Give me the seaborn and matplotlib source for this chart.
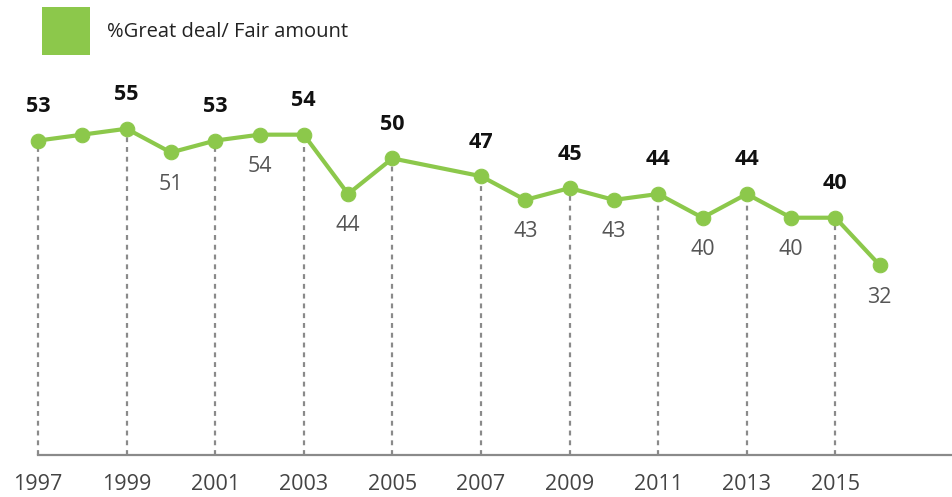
import matplotlib
matplotlib.use("Agg")
from matplotlib import pyplot as plt
from matplotlib.patches import Rectangle
import pandas
import seaborn

# Trust in mass media, % great deal / fair amount
years = [1997, 1998, 1999, 2000, 2001, 2002, 2003, 2004, 2005, 2007,
         2008, 2009, 2010, 2011, 2012, 2013, 2014, 2015, 2016]
values = [53, 54, 55, 51, 53, 54, 54, 44, 50, 47,
          43, 45, 43, 44, 40, 44, 40, 40, 32]
# where each value label goes: above (bold), below (grey) or none
label_pos = ["above", None, "above", "below", "above", "below", "above", "below", "above", "above",
             "below", "above", "below", "above", "below", "above", "below", "above", "below"]
tick_years = [1997, 1999, 2001, 2003, 2005, 2007, 2009, 2011, 2013, 2015]
series_name = "%Great deal/ Fair amount"

green = "#8cc84b"

seaborn.set_style("white")
plt.rcParams["font.family"] = ["Open Sans", "DejaVu Sans"]

df = pandas.DataFrame({"year": years, "value": values})

fig = plt.figure(figsize=(9.52, 4.97), dpi=100)
ax = fig.add_axes([0, 0.0845, 1, 0.9155])

# dashed drop lines at the odd years
drop = df[df["year"].isin(tick_years)]
ax.vlines(drop["year"], 0, drop["value"], colors="#8a8a8a",
          linestyles=(0, (2.2, 2.2)), linewidth=1.6, zorder=1)

seaborn.lineplot(data=df, x="year", y="value", ax=ax, color=green,
                 linewidth=3, marker="o", markersize=10.5,
                 markeredgecolor=green, zorder=3)

for y, v, pos in zip(years, values, label_pos):
    if pos == "above":
        ax.annotate(str(v), (y, v), xytext=(0, 24.5), textcoords="offset points",
                    ha="center", va="center", fontsize=15.5, fontweight="bold",
                    color="#111111")
    elif pos == "below":
        ax.annotate(str(v), (y, v), xytext=(0, -23), textcoords="offset points",
                    ha="center", va="center", fontsize=15.5, color="#555555")

ax.set_xlim(1997 - 38 / 44.3, 1997 + (952 - 38) / 44.3)
ax.set_ylim(0, 76.7)
ax.set_xticks(tick_years)
ax.set_xticklabels([str(t) for t in tick_years], fontsize=15.5, color="#444444")
ax.tick_params(axis="x", length=0, pad=14)
ax.set_yticks([])
ax.set_xlabel("")
ax.set_ylabel("")
for s in ["top", "left", "right"]:
    ax.spines[s].set_visible(False)
ax.spines["bottom"].set_color("#8a8a8a")
ax.spines["bottom"].set_linewidth(1.6)
ax.spines["bottom"].set_bounds(1997, ax.get_xlim()[1])

# legend box at top left
fig.patches.append(Rectangle((42 / 952, 1 - 55 / 497), 48 / 952, 48 / 497,
                             transform=fig.transFigure, facecolor=green,
                             edgecolor="none"))
fig.text(107 / 952, 1 - 32 / 497, series_name, fontsize=14.5,
         color="#222222", va="center", ha="left")

fig.savefig("out.png", dpi=100)
